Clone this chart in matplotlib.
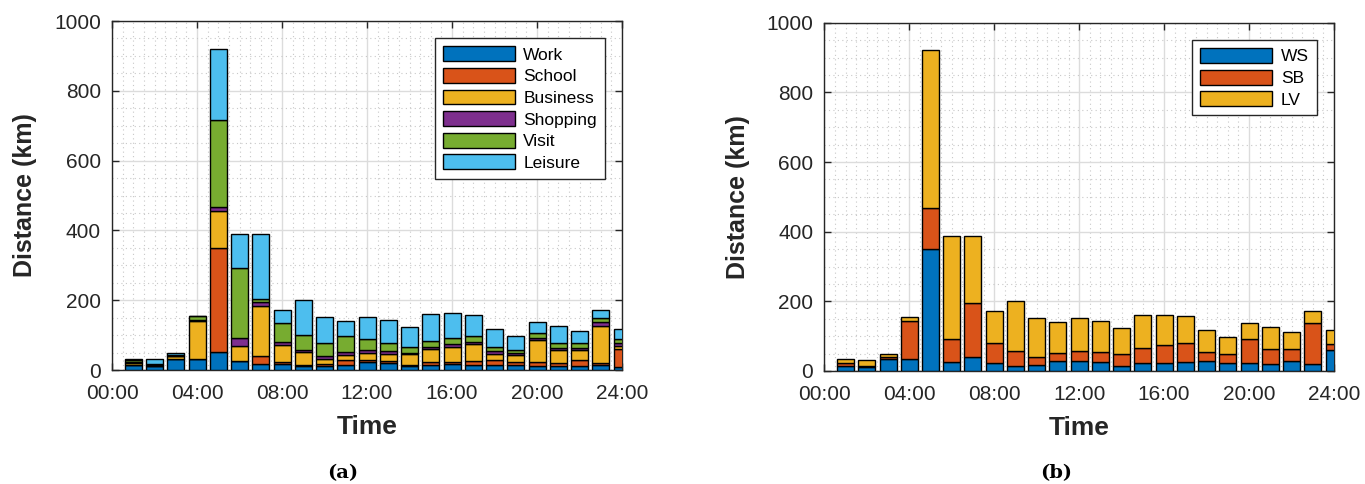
import matplotlib.pyplot as plt
import numpy as np

plt.rcParams['font.family'] = ['Liberation Sans', 'DejaVu Sans']

hours = np.arange(1, 25)
tick_hours = np.arange(0, 25, 4)
tick_labels = ['%02d:00' % h for h in tick_hours]

# trip distance per purpose, one value per hour
work = [13, 11, 32, 31, 51, 25, 17, 17, 11, 11, 13, 24, 21, 11, 15, 17, 15, 14, 14, 11, 11, 11, 14, 10]
school = [2, 1, 1, 2, 299, 1, 24, 7, 4, 6, 15, 5, 4, 4, 7, 5, 10, 15, 10, 12, 10, 19, 5, 50]
business = [4, 1, 6, 108, 105, 42, 141, 47, 36, 15, 15, 20, 22, 30, 37, 45, 49, 17, 19, 63, 36, 27, 108, 8]
shopping = [3, 2, 1, 3, 12, 23, 12, 8, 6, 9, 9, 9, 7, 5, 8, 7, 7, 8, 5, 7, 6, 7, 10, 9]
visit = [8, 2, 2, 10, 249, 200, 9, 55, 43, 35, 46, 31, 24, 15, 16, 19, 16, 11, 8, 14, 15, 14, 11, 13]
leisure = [3, 15, 6, 2, 205, 98, 186, 38, 101, 77, 42, 64, 65, 57, 77, 69, 60, 52, 42, 31, 49, 33, 23, 27]

# grouped purposes
ws = [15, 12, 33, 33, 350, 26, 41, 24, 15, 17, 28, 29, 25, 15, 22, 22, 25, 29, 24, 23, 21, 30, 19, 60]
sb = [7, 3, 7, 111, 117, 65, 153, 55, 42, 24, 24, 29, 29, 35, 45, 52, 56, 25, 24, 70, 42, 34, 118, 17]
lv = [11, 17, 8, 12, 454, 298, 195, 93, 144, 112, 88, 95, 89, 72, 93, 88, 76, 63, 50, 45, 64, 47, 34, 40]

purpose_names = ['Work', 'School', 'Business', 'Shopping', 'Visit', 'Leisure']
group_names = ['WS', 'SB', 'LV']

colors = ['#0072BD', '#D95319', '#EDB120', '#7E2F8E', '#77AC30', '#4DBEEE']
axis_color = '#262626'


def stackBars(ax, series, names):
	bottom = np.zeros(len(hours))
	for vals, name, col in zip(series, names, colors):
		ax.bar(hours, vals, width=0.8, bottom=bottom, color=col,
			edgecolor='black', linewidth=1.0, label=name, zorder=3)
		bottom += np.array(vals)


def styleAxes(ax):
	ax.set_xlim(0, 24)
	ax.set_ylim(0, 1000)
	ax.set_xticks(tick_hours)
	ax.set_xticklabels(tick_labels)
	ax.set_yticks(np.arange(0, 1001, 200))
	ax.set_xticks(np.arange(0, 24.01, 0.5), minor=True)
	ax.set_yticks(np.arange(0, 1001, 50), minor=True)
	ax.grid(which='major', color='#dcdcdc', linewidth=1.0, zorder=0)
	ax.grid(which='minor', color='#c8c8c8', linestyle=(0, (1, 3)), linewidth=0.8, zorder=0)
	ax.set_axisbelow(True)
	ax.tick_params(which='major', direction='in', length=5, width=1,
		top=True, right=True, labelsize=15, colors=axis_color)
	ax.tick_params(axis='x', which='major', pad=10)
	ax.tick_params(axis='y', which='major', pad=8)
	ax.tick_params(which='minor', length=0)
	for s in ax.spines.values():
		s.set_color(axis_color)
		s.set_linewidth(1.0)
	ax.set_xlabel('Time', fontsize=19, fontweight='bold', color=axis_color, labelpad=9)
	ax.set_ylabel('Distance (km)', fontsize=18, fontweight='bold', color=axis_color, labelpad=12)


fig = plt.figure(figsize=(13.65, 4.84), dpi=100)
ax1 = fig.add_axes([0.0821, 0.2355, 0.3736, 0.7211])
ax2 = fig.add_axes([0.6039, 0.2335, 0.3734, 0.7196])

stackBars(ax1, [work, school, business, shopping, visit, leisure], purpose_names)
stackBars(ax2, [ws, sb, lv], group_names)

for ax in (ax1, ax2):
	styleAxes(ax)
	leg = ax.legend(loc='upper right', fontsize=12.5, fancybox=False, framealpha=1,
		edgecolor=axis_color, handlelength=4.15, handleheight=0.95,
		borderaxespad=1.0, borderpad=0.45, labelspacing=0.3, handletextpad=0.5)
	leg.get_frame().set_linewidth(1.0)

fig.text(343 / 1365, 1 - 473 / 484, '(a)', ha='center', va='center',
	fontsize=14, fontweight='bold', family='DejaVu Serif')
fig.text(1056 / 1365, 1 - 473 / 484, '(b)', ha='center', va='center',
	fontsize=14, fontweight='bold', family='DejaVu Serif')

fig.savefig('out.png', dpi=100)
